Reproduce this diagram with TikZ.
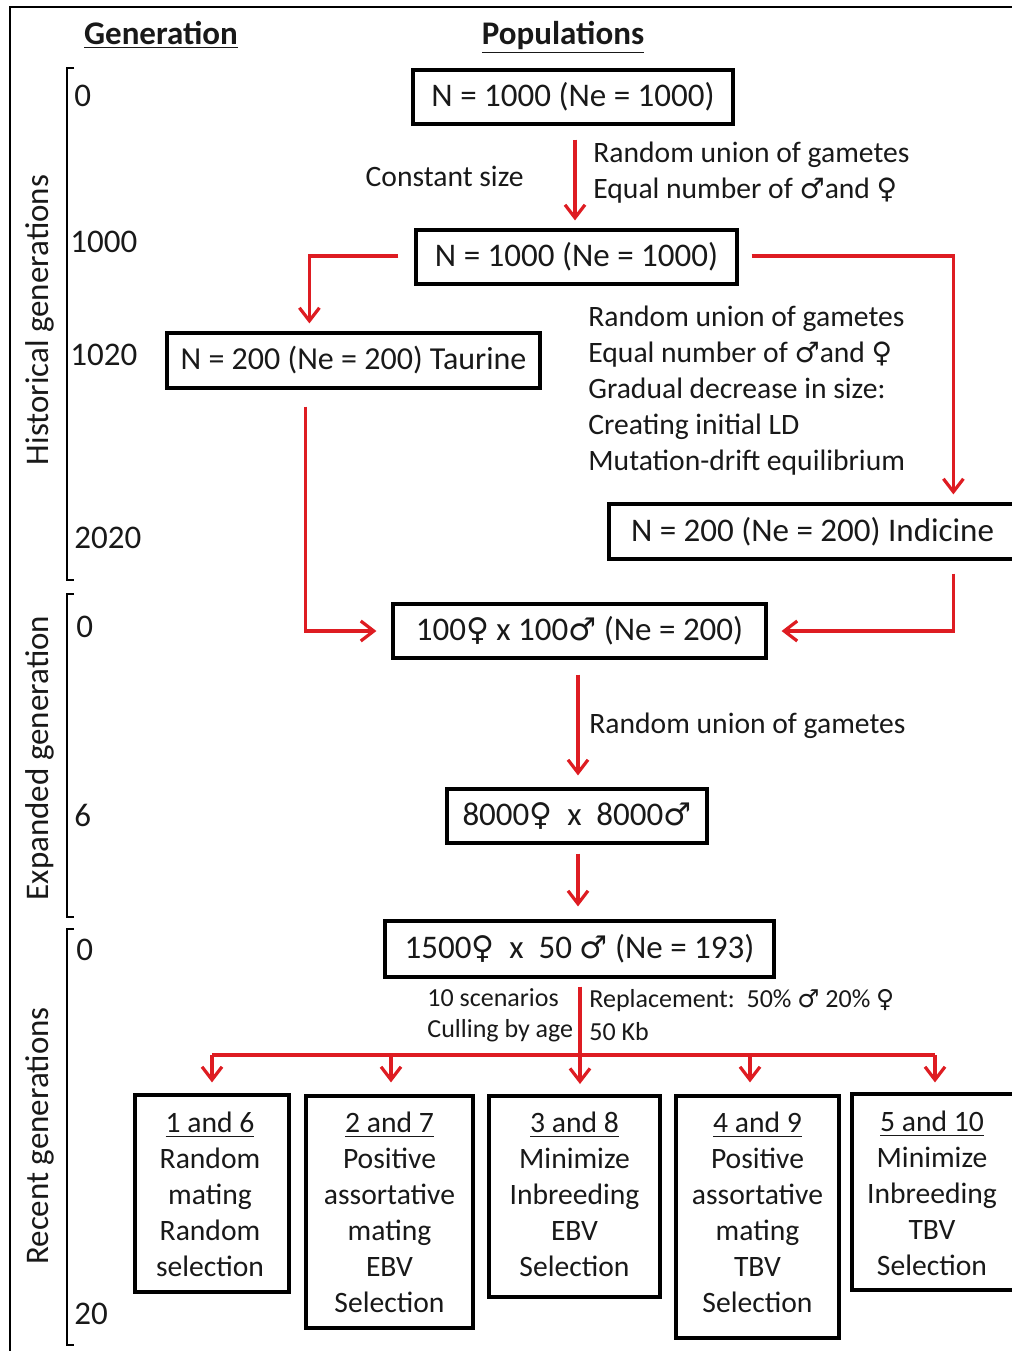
\documentclass[tikz,border=0pt]{standalone}
\usepackage{fontspec}
\setmainfont{Carlito}
\newfontfamily\symfont{DejaVu Sans}
\newcommand{\mymale}{{\symfont\scalebox{0.95}{♂}}}
\newcommand{\myfemale}{{\symfont\scalebox{0.95}{♀}}}
\usetikzlibrary{arrows.meta,calc}
\definecolor{arrred}{RGB}{222,28,34}
\definecolor{txt}{RGB}{25,25,25}
\newcommand{\bigf}{\fontsize{16.5}{20}\selectfont}
\newcommand{\midf}{\fontsize{14.8}{18}\selectfont}
\newcommand{\smf}{\fontsize{13}{16}\selectfont}
\begin{document}
\begin{tikzpicture}[x=0.5pt,y=-0.5pt,
  every node/.style={text=txt},
  popbox/.style={draw=black,line width=1.6pt,inner sep=0pt,font=\bigf},
  scenbox/.style={draw=black,line width=1.6pt,inner sep=0pt},
  scentext/.style={font=\midf,align=center,anchor=north,inner sep=0pt},
  arr/.style={draw=arrred,line width=1.6pt,-{Straight Barb[length=6.5pt,width=10pt,line width=1.6pt]}},
  redline/.style={draw=arrred,line width=1.6pt},
  note/.style={font=\midf,anchor=west,inner sep=0pt},
  gen/.style={font=\bigf,anchor=west,inner sep=0pt},
  brk/.style={draw=black,line width=1.4pt},
  head/.style={font=\bigf\bfseries,inner sep=0pt}]
\useasboundingbox (0,0) rectangle (1012,1351);
\fill[white] (0,0) rectangle (1012,1351);
% outer frame
\draw[line width=1.1pt] (10,1351) -- (10,7) -- (1014,7);
% headings
\node[head] (hgen) at (161,35) {\underline{Generation}};
\node[head] (hpop) at (563,37) {\underline{Populations}};
% brackets
\draw[brk] (74,68) -- (67,68) -- (67,580) -- (74,580);
\draw[brk] (74,594) -- (67,594) -- (67,917) -- (74,917);
\draw[brk] (74,929) -- (67,929) -- (67,1345) -- (74,1345);
% rotated labels
\node[font=\bigf,rotate=90,inner sep=0pt] (lhist) at (40,320) {Historical generations};
\node[font=\bigf,rotate=90,inner sep=0pt] (lexp) at (40,758) {Expanded generation};
\node[font=\bigf,rotate=90,inner sep=0pt] (lrec) at (40,1136) {Recent generations};
% generation numbers
\node[gen] (g0) at (74,96) {0};
\node[gen] (g1000) at (70,242) {1000};
\node[gen] (g1020) at (70,355) {1020};
\node[gen] (g2020) at (74,538) {2020};
\node[gen] (e0) at (76,627) {0};
\node[gen] (e6) at (74,815) {6};
\node[gen] (r0) at (76,950) {0};
\node[gen] (r20) at (74,1314) {20};
% population boxes
\node[popbox,minimum width=160pt,minimum height=27pt] (A) at (573,97) {N = 1000 (Ne = 1000)};
\node[popbox,minimum width=160.5pt,minimum height=27pt] (B) at (576.5,257) {N = 1000 (Ne = 1000)};
\node[popbox,minimum width=186.5pt,minimum height=27.5pt,font=\fontsize{16}{20}\selectfont] (C) at (353.5,360.5) {N = 200 (Ne = 200) Taurine};
\node[popbox,minimum width=203.5pt,minimum height=27.5pt] (D) at (812.5,531.5) {N = 200 (Ne = 200) Indicine\hspace{4pt}};
\node[popbox,minimum width=186.5pt,minimum height=27pt] (E) at (579.5,631) {100\myfemale\ x 100\mymale\ (Ne = 200)};
\node[popbox,minimum width=130pt,minimum height=27pt] (F) at (577,816) {8000\myfemale\ \ x\ \ 8000\mymale};
\node[popbox,minimum width=194.5pt,minimum height=28pt] (G) at (579.5,949) {1500\myfemale\ \ x\ \ 50 \mymale\ (Ne = 193)};
% scenario boxes
\node[scenbox,minimum width=77pt,minimum height=98.5pt] (H1) at (212,1193.5) {};
\node[scenbox,minimum width=83.5pt,minimum height=116pt] (H2) at (389.5,1212) {};
\node[scenbox,minimum width=85.5pt,minimum height=100.5pt] (H3) at (574.5,1196.5) {};
\node[scenbox,minimum width=81.5pt,minimum height=121pt] (H4) at (757.5,1217) {};
\node[scenbox,minimum width=81pt,minimum height=98pt] (H5) at (933,1192) {};
\node[scentext] (t1) at (210,1112) {\underline{1 and 6}\\Random\\mating\\Random\\selection};
\node[scentext] (t2) at (389.5,1112) {\underline{2 and 7}\\Positive\\assortative\\mating\\EBV\\Selection};
\node[scentext] (t3) at (574.5,1112) {\underline{3 and 8}\\Minimize\\Inbreeding\\EBV\\Selection};
\node[scentext] (t4) at (757.5,1112) {\underline{4 and 9}\\Positive\\assortative\\mating\\TBV\\Selection};
\node[scentext] (t5) at (932,1111) {\underline{5 and 10}\\Minimize\\Inbreeding\\TBV\\Selection};
% annotations
\node[note,anchor=east] (n1) at (524,176) {Constant size};
\node[note] (n2) at (593,155) {Random union of gametes};
\node[note] (n3) at (593,191) {Equal number of \mymale and \myfemale};
\node[note,align=left,anchor=north west] (n4) at (588,306)
  {Random union of gametes\\Equal number of \mymale and \myfemale\\Gradual decrease in size:\\Creating initial LD\\Mutation-drift equilibrium};
\node[note] (n5) at (589,726) {Random union of gametes};
\node[note,font=\smf] (n6) at (427,998) {10 scenarios};
\node[note,font=\smf] (n7) at (427,1031) {Culling by age};
\node[note,font=\smf] (n8) at (589,1001) {Replacement:\ \ 50\% \mymale\ 20\% \myfemale};
\node[note,font=\smf] (n9) at (589,1032) {50 Kb};
% connectors
\draw[arr] ($(A.south)+(2,14)$) -- ($(B.north)+(-1.5,-8)$);
\draw[arr] ($(B.west)+(-16,-1)$) -| ($(C.north west)+(144,-8)$);
\draw[arr] ($(B.east)+(13,-1)$) -| ($(D.north west)+(346,-8)$);
\draw[arr] ($(C.south west)+(140,17)$) |- ($(E.west)+(-15,0)$);
\draw[arr] ($(D.south west)+(346,13)$) |- ($(E.east)+(14,0)$);
\draw[arr] ($(E.south)+(-1.5,15)$) -- ($(F.north)+(1,-12)$);
\draw[arr] ($(F.south)+(1,9)$) -- ($(G.north)+(-1.5,-13)$);
\coordinate (s1) at (212,1055);
\coordinate (s2) at (391,1055);
\coordinate (s3) at (580,1055);
\coordinate (s4) at (750,1055);
\coordinate (s5) at (935,1055);
\draw[redline] (s1) -- (s5);
\draw[arr] ($(G.south)+(0.5,8)$) -- ($(s3)+(0,29)$);
\draw[arr] (s1) -- ($(s1|-H1.north)+(0,-11)$);
\draw[arr] (s2) -- ($(s2|-H2.north)+(0,-12)$);
\draw[arr] (s4) -- ($(s4|-H4.north)+(0,-12)$);
\draw[arr] (s5) -- ($(s5|-H5.north)+(0,-10)$);
\end{tikzpicture}
\end{document}
